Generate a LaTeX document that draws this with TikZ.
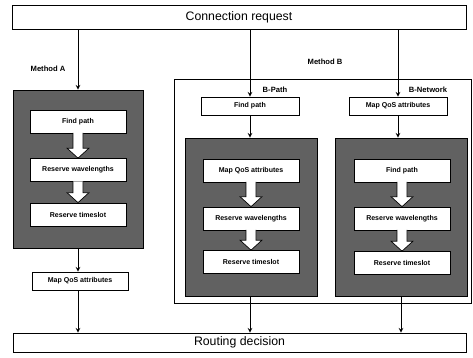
\documentclass[tikz,border=0pt]{standalone}
\usepackage{fontspec}
\setmainfont{Liberation Sans}
\usetikzlibrary{
  arrows,
  calc,
  positioning,
  arrows.meta
}

\tikzset{
  mainbox/.style={draw,line width=0.6pt,fill=white,inner sep=0pt,font=\fontsize{10.5}{12}\selectfont},
  smallbox/.style={draw,line width=0.6pt,fill=white,inner sep=0pt,
    minimum width=2.88cm,minimum height=0.69cm,font=\fontsize{6}{7}\bfseries},
  shadebox/.style={draw,line width=0.6pt,fill=black!62,inner sep=0pt},
  lbl/.style={font=\fontsize{6.5}{7}\bfseries,inner sep=1pt},
  conn/.style={->,>=stealth,line width=0.8pt}
}

% white block arrow between two stacked boxes
\newcommand{\fatdown}[2]{%
  \draw[fill=white,line width=0.6pt] ($(#1)+(-5,-0.6)$) -- ($(#2)+(-5,-10)$) -- ($(#2)+(-11,-10)$)
    -- (#2) -- ($(#2)+(11,-10)$) -- ($(#2)+(5,-10)$) -- ($(#1)+(5,-0.6)$);}

\begin{document}
\begin{tikzpicture}[x=0.03cm,y=-0.03cm]
  \useasboundingbox[fill=white] (0,0) rectangle (473,357);

  % top and bottom bars
  \node[mainbox,minimum width=13.62cm,minimum height=0.72cm] (ConnReq) at (239,17) {Connection request};
  \node[mainbox,minimum width=13.59cm,minimum height=0.57cm] (RoutDec) at (239.5,342.5) {Routing decision};

  % method A
  \node[lbl] (MethA) at (48,69) {Method A};
  \node[shadebox,minimum width=3.9cm,minimum height=4.74cm] (ShadeA) at (78,169) {};
  \node[smallbox] (FindA) at (78,121.5) {Find path};
  \node[smallbox] (WaveA) at (78,170) {Reserve wavelengths};
  \node[smallbox] (SlotA) at (78,214.5) {Reserve timeslot};
  \node[smallbox,minimum height=0.54cm] (MapA) at (80,281) {Map QoS attributes};

  % method B
  \node[draw,line width=0.5pt,inner sep=0pt,minimum width=8.91cm,minimum height=6.72cm] (BoxB) at (322.5,191) {};
  \node[lbl] (MethB) at (325,62) {Method B};
  \node[lbl] (PathLbl) at (275,90) {B-Path};
  \node[lbl] (NetLbl) at (428,90) {B-Network};
  \node[smallbox,minimum width=2.94cm,minimum height=0.54cm] (FindB) at (250,106) {Find path};
  \node[smallbox,minimum width=2.94cm,minimum height=0.54cm] (MapN) at (398,106) {Map QoS attributes};

  \node[shadebox,minimum width=3.96cm,minimum height=4.74cm] (ShadeB) at (251,217) {};
  \node[smallbox] (MapB) at (251,170.5) {Map QoS attributes};
  \node[smallbox] (WaveB) at (251,218.5) {Reserve wavelengths};
  \node[smallbox] (SlotB) at (251,262) {Reserve timeslot};

  \node[shadebox,minimum width=3.96cm,minimum height=4.74cm] (ShadeN) at (401,217) {};
  \node[smallbox] (FindN) at (402,170.5) {Find path};
  \node[smallbox] (WaveN) at (402,218.5) {Reserve wavelengths};
  \node[smallbox] (SlotN) at (402,263) {Reserve timeslot};

  % white arrows inside the shaded blocks
  \fatdown{FindA.south}{WaveA.north}
  \fatdown{WaveA.south}{SlotA.north}
  \fatdown{MapB.south}{WaveB.north}
  \fatdown{WaveB.south}{SlotB.north}
  \fatdown{FindN.south}{WaveN.north}
  \fatdown{WaveN.south}{SlotN.north}

  % connectors
  \draw[conn] (ConnReq.south -| ShadeA.north) -- (ShadeA.north);
  \draw[conn] (ShadeA.south) -- (ShadeA.south |- MapA.north);
  \draw[conn] (MapA.south -| ShadeA.south) -- (RoutDec.north -| ShadeA.south);
  \draw[conn] (ConnReq.south -| FindB.north) -- (FindB.north);
  \draw[conn] (ConnReq.south -| MapN.north) -- (MapN.north);
  \draw[conn] (FindB.south) -- (ShadeB.north -| FindB.south);
  \draw[conn] (MapN.south) -- (ShadeN.north -| MapN.south);
  \draw[conn] (ShadeB.south -| FindB.south) -- (RoutDec.north -| FindB.south);
  \draw[conn] (ShadeN.south) -- (RoutDec.north -| ShadeN.south);
\end{tikzpicture}
\end{document}
